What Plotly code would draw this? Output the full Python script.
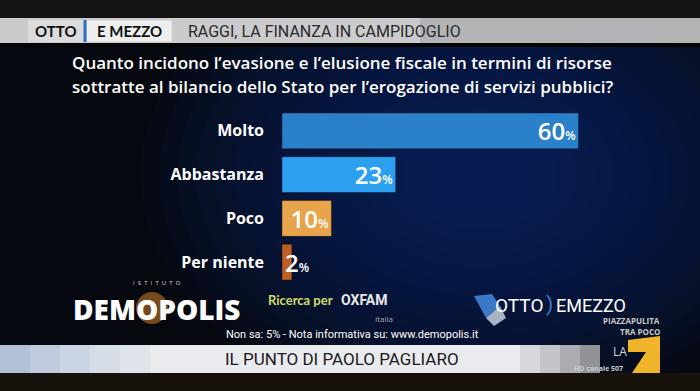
import plotly.graph_objects as go

categories = ["Molto", "Abbastanza", "Poco", "Per niente"]
values = [60, 23, 10, 2]
bar_colors = ["#2a80c9", "#2d9ff0", "#e8a44a", "#bd5e22"]

W, H = 700, 391
def X(px):
    return px / W
def Y(py):
    return 1 - py / H

FONT = "'Open Sans', Lato, sans-serif"
LATO = "Lato, 'Open Sans', sans-serif"
NARROW = "Roboto, 'Liberation Sans', sans-serif"

fig = go.Figure()
for i, (c, v, col) in enumerate(zip(categories, values, bar_colors)):
    small = v < 5
    fig.add_trace(go.Bar(
        x=[v], y=[c], orientation="h",
        marker=dict(color=col, line=dict(color="rgba(0,0,0,0.35)", width=1)),
        text=[f"{v}<span style='font-size:12px'>%</span>"],
        textposition="inside",
        insidetextanchor="start" if small else "end",
        constraintext="none",
        textangle=0,
        textfont=dict(family=FONT, size=24, color="white", weight=600),
        cliponaxis=False,
        hoverinfo="skip",
        showlegend=False,
    ))

shapes = []
# background glow (radial-ish)
for k in range(16):
    f = 1 - k * 0.055
    cx, cy = 480, 175
    rx, ry = 340 * f, 240 * f
    shapes.append(dict(type="circle", xref="paper", yref="paper",
                       x0=X(cx - rx), x1=X(cx + rx), y0=Y(cy + ry), y1=Y(cy - ry),
                       fillcolor="rgba(22,46,115,0.065)", line=dict(width=0), layer="below"))
# top dark band
shapes.append(dict(type="rect", xref="paper", yref="paper", x0=0, x1=1, y0=Y(18), y1=1,
                   fillcolor="#141415", line=dict(width=0), layer="below"))
# gray header bar
shapes.append(dict(type="rect", xref="paper", yref="paper", x0=0, x1=1, y0=Y(43), y1=Y(18),
                   fillcolor="#b4b4b6", line=dict(width=0), layer="below"))
shapes.append(dict(type="rect", xref="paper", yref="paper", x0=0, x1=X(420), y0=Y(43), y1=Y(18),
                   fillcolor="rgba(230,230,232,0.45)", line=dict(width=0), layer="below"))
shapes.append(dict(type="rect", xref="paper", yref="paper", x0=X(28), x1=X(84), y0=Y(42), y1=Y(20),
                   fillcolor="#dcdcde", line=dict(width=0), layer="below"))
shapes.append(dict(type="rect", xref="paper", yref="paper", x0=X(86), x1=X(172), y0=Y(42), y1=Y(20),
                   fillcolor="#eeeeef", line=dict(color="#d0d0d0", width=1), layer="below"))
shapes.append(dict(type="line", xref="paper", yref="paper", x0=X(85), x1=X(85), y0=Y(42), y1=Y(20),
                   line=dict(color="#2f6fc0", width=3), layer="below"))
shapes.append(dict(type="rect", xref="paper", yref="paper", x0=0, x1=1, y0=Y(47), y1=Y(43),
                   fillcolor="#050505", line=dict(width=0), layer="below"))
# bottom white strip
shapes.append(dict(type="rect", xref="paper", yref="paper", x0=0, x1=X(600), y0=Y(373), y1=Y(345),
                   fillcolor="#e9ebef", line=dict(width=0), layer="below"))
for j, a in enumerate([0.6, 0.45, 0.32, 0.2, 0.1]):
    shapes.append(dict(type="rect", xref="paper", yref="paper", x0=X(j * 30), x1=X(j * 30 + 30),
                       y0=Y(373), y1=Y(345),
                       fillcolor=f"rgba(140,165,200,{a})", line=dict(width=0), layer="below"))
for j, a in enumerate([0.1, 0.2, 0.32, 0.45]):
    shapes.append(dict(type="rect", xref="paper", yref="paper", x0=X(520 + j * 20), x1=X(540 + j * 20),
                       y0=Y(373), y1=Y(345),
                       fillcolor=f"rgba(40,40,40,{a})", line=dict(width=0), layer="below"))
shapes.append(dict(type="rect", xref="paper", yref="paper", x0=0, x1=1, y0=0, y1=Y(373),
                   fillcolor="#17120c", line=dict(width=0), layer="below"))
# demopolis orange glow
shapes.append(dict(type="circle", xref="paper", yref="paper", x0=X(136), x1=X(168), y0=Y(324), y1=Y(292),
                   fillcolor="rgba(230,140,40,0.5)", line=dict(width=0), layer="below"))
# otto e mezzo logo shapes
shapes.append(dict(type="path", xref="paper", yref="paper",
                   path=f"M {X(474)} {Y(296)} L {X(492)} {Y(294)} L {X(500)} {Y(306)} L {X(486)} {Y(318)} Z",
                   fillcolor="#3a78c8", line=dict(width=0), layer="below"))
shapes.append(dict(type="path", xref="paper", yref="paper",
                   path=f"M {X(486)} {Y(318)} L {X(500)} {Y(306)} L {X(506)} {Y(318)} L {X(494)} {Y(326)} Z",
                   fillcolor="#a9b4c2", line=dict(width=0), layer="below"))
# LA7 yellow seven
shapes.append(dict(type="path", xref="paper", yref="paper",
                   path=f"M {X(628)} {Y(340)} L {X(660)} {Y(336)} L {X(660)} {Y(373)} L {X(632)} {Y(373)} L {X(646)} {Y(352)} L {X(628)} {Y(352)} Z",
                   fillcolor="#f0b52a", line=dict(width=0), layer="below"))

ann = []
def text(x, y, s, size, color, family=FONT, weight="normal", xanchor="center"):
    ann.append(dict(x=X(x), y=Y(y), xref="paper", yref="paper", text=s, showarrow=False,
                    xanchor=xanchor, yanchor="middle",
                    font=dict(family=family, size=size, color=color, weight=weight)))

text(56, 31, "OTTO", 15, "#111", family=LATO, weight="bold")
text(129, 31, "E MEZZO", 15, "#111", family=LATO, weight="bold")
text(186, 31, "RAGGI, LA FINANZA IN CAMPIDOGLIO", 16, "#2a2a2a", family=NARROW, xanchor="left")
text(342, 62, "Quanto incidono l’evasione e l’elusione fiscale in termini di risorse", 17, "white", weight=600)
text(342, 86, "sottratte al bilancio dello Stato per l’erogazione di servizi pubblici?", 17, "white", weight=600)
# footer
text(157, 283, "I  S  T  I  T  U  T  O", 6, "#dddddd")
text(157, 309, "DEMOPOLIS", 28, "white", weight=800)
text(335, 300, "Ricerca per", 13, "#cfdc6a", family=LATO, weight="bold", xanchor="right")
text(339, 300, "OXFAM", 14, "#e8e8e8", family=NARROW, weight="bold", xanchor="left")
text(384, 318, "Italia", 8, "#aaaaaa")
text(352, 334, "Non sa: 5% - Nota informativa su: www.demopolis.it", 11, "white", family=NARROW)
text(545, 305, "OTTO", 19, "white", family=NARROW, xanchor="right")
text(549, 304, ")", 21, "#3a78c8", family=NARROW)
text(554, 305, "EMEZZO", 18, "white", family=NARROW, xanchor="left")
text(662, 320, "PIAZZAPULITA", 8, "#c8c8c8", weight="bold", xanchor="right")
text(662, 331, "TRA POCO", 8, "#c8c8c8", weight="bold", xanchor="right")
text(342, 359, "IL PUNTO DI PAOLO PAGLIARO", 17, "#1a1a1a", family=NARROW)
text(620, 351, "LA", 12, "#cfd4dc")
text(625, 368, "HD canale 507", 7, "#c8ccd4", weight="bold", xanchor="right")

fig.update_layout(
    width=W, height=H,
    margin=dict(l=0, r=0, t=0, b=0),
    paper_bgcolor="#06080f",
    plot_bgcolor="rgba(0,0,0,0)",
    barmode="overlay",
    bargap=0.18,
    shapes=shapes,
    annotations=ann,
    xaxis=dict(domain=[X(282), X(628)], range=[0, 70], visible=False, fixedrange=True),
    yaxis=dict(domain=[Y(284), Y(109)], categoryorder="array", categoryarray=categories[::-1],
               showgrid=False, zeroline=False, showline=False, ticks="",
               ticklabelstandoff=17,
               tickfont=dict(family=FONT, size=16, color="white", weight="bold"),
               fixedrange=True),
    showlegend=False,
)

fig.write_html("out.html", config={"displayModeBar": False},
               post_script="document.body.style.margin='0';document.body.style.overflow='hidden';document.body.style.background='#06080f';")
